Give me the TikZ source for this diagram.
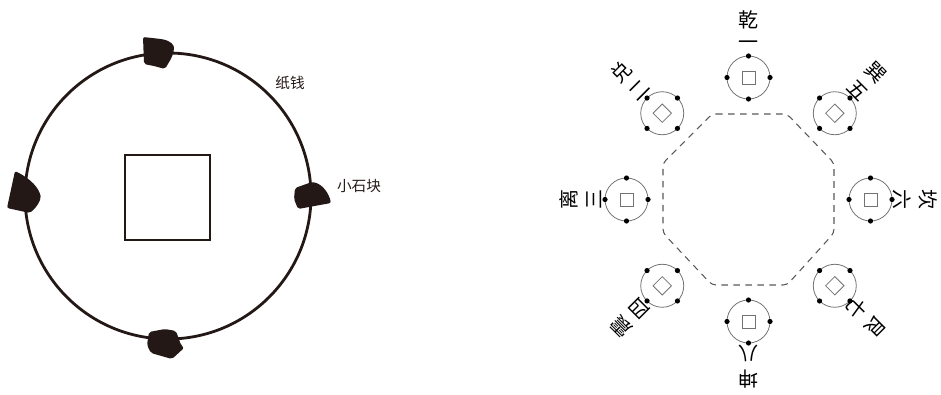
\documentclass[tikz,border=0pt]{standalone}
\usepackage{fontspec}
\newfontfamily\cjk{Noto Sans CJK SC}
\usetikzlibrary{calc}
\definecolor{ink}{HTML}{231815}
\tikzset{
  ring/.style={draw=ink, line width=2.1pt},
  holebox/.style={draw=ink, line width=1.9pt},
  stone/.style={fill=ink, rounded corners=1.5pt},
  smalllbl/.style={font=\cjk\fontsize{11}{11}\selectfont, text=ink, inner sep=0pt},
  coin/.style={circle, draw=black!55, line width=0.6pt, minimum size=32.25pt, inner sep=0pt},
  cointhole/.style={draw=black!55, line width=0.6pt},
  coindot/.style={fill=black},
  guaname/.style={font=\cjk\fontsize{15}{15}\selectfont, text=black, inner sep=0pt},
  octo/.style={draw=black!65, line width=0.8pt, dash pattern=on 5pt off 4pt, rounded corners=3pt}
}
\begin{document}
\begin{tikzpicture}[x=0.75pt,y=0.75pt]
\useasboundingbox (0,0) rectangle (941,394);
% ---------- left diagram ----------
\coordinate (L) at (168,198);
\draw[ring] (L) circle (143);
\node[holebox, minimum size=63.75pt, inner sep=0pt] (sq) at (167.5,196.5) {};
% stones
\fill[stone] (143,357) -- (161,355) .. controls (171,353) and (174,349) .. (174,344) -- (172,337) -- (165,325) -- (154,328) -- (144,330) -- cycle;
\fill[stone] (295,206) -- (312,212) .. controls (323,210) and (329,200) .. (331,191) -- (298,185) -- (294,195) -- cycle;
\fill[stone] (15,223) .. controls (31,215) and (39,206) .. (41,196) -- (37,188) -- (30,181) -- (7,186) -- cycle;
\fill[stone] (149,62) -- (165,65) -- (176,63) -- (181,49) -- (184,46) -- (172,35) -- (151,41) -- (147,49) -- cycle;
\node[smalllbl] (zq) at (290,311) {纸钱};
\node[smalllbl] (xsk) at (359,208) {小石块};
% ---------- right diagram ----------
\coordinate (C) at (748.5,194.5);
\draw[octo] (712,280) -- (787,280) -- (834,231) -- (834,161) -- (787,109) -- (712,109) -- (663,161) -- (663,231) -- cycle;
\foreach \a/\o/\n [count=\i] in {90/乾/一, 45/巽/五, 0/坎/六, -45/艮/七, -90/坤/八, -135/震/四, 180/离/三, 135/兑/二} {
  \node[coin] (coin\i) at ($(C)+(\a:122)$) {};
  \begin{scope}[shift={(coin\i.center)}, rotate=\a]
    \draw[cointhole] (-6.5,-6.5) rectangle (6.5,6.5);
    \foreach \k in {0,90,180,270} \fill[coindot] (\k:21.5) circle (2.6);
  \end{scope}
  \node[guaname, rotate=\a-90] (in\i) at ($(C)+(\a:154)$) {\n};
  \node[guaname, rotate=\a-90] (out\i) at ($(C)+(\a:180)$) {\o};
}
\end{tikzpicture}
\end{document}
